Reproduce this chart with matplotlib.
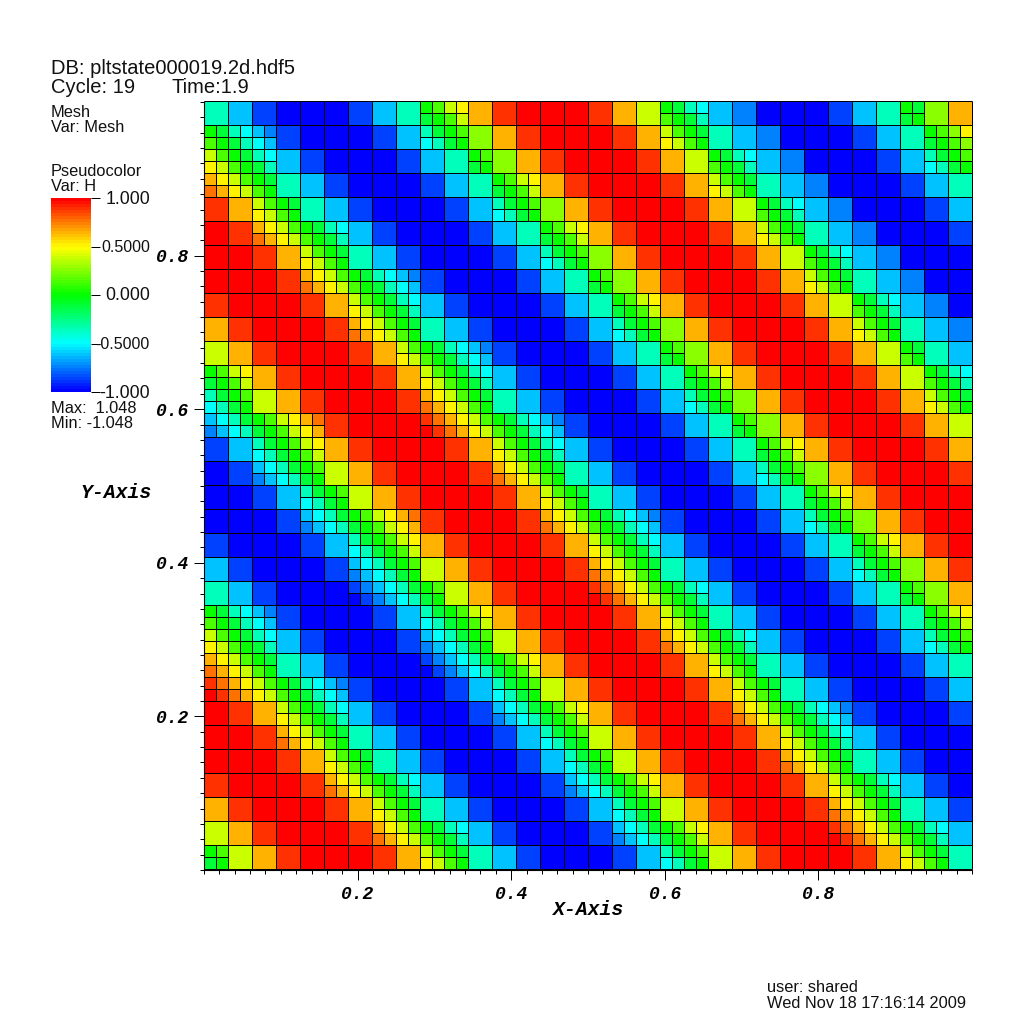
import numpy as np
import matplotlib
matplotlib.use("Agg")
import matplotlib.pyplot as plt
from matplotlib.collections import PolyCollection, LineCollection
from matplotlib.colors import LinearSegmentedColormap, Normalize
from matplotlib.cm import ScalarMappable
from matplotlib.transforms import Affine2D

# cell value codes, a = -1.0 up to q = 1.0 in steps of 0.125
level_codes = "abcdefghijklmnopq"
level_values = [-1.0, -0.875, -0.75, -0.625, -0.5, -0.375, -0.25, -0.125, 0.0,
                0.125, 0.25, 0.375, 0.5, 0.625, 0.75, 0.875, 1.0]

# top row first. one letter = coarse cell, four letters = refined cell (tl tr bl br)
h_rows = [
    "f d b a a a b d f ijhi lmjl n p q q q p n l ihji fehf d c a a a b d f ihhi k n",
    "ihji fehf dced b a a a b d fhef ijhi k n p q q q p n ljml ihji f d c a a a b d f ijhi kmjk",
    "ljml ihji fehf d b a a a b d f ijhi k n p q q q p n l ihji fehf d c a a a b d fhef ijhi",
    "nmon ljml ihji f d b a a a b d f ijhi lmjl n p q q q p n ljml ihji f d c a a a b d f",
    "p n ljml ihji f d b a a a b d fhef ijhi k n p q q q p n l ihji fehf d c a a a b d",
    "q p nmon ljml ihji fehf d b a a a b d f ijhi lmjl n p q q q p n ljml ihji f d c a a a b",
    "q q p n ljml ihji f d b a a a b d fhef ijhi k n p q q q p n l ihji fehf d c a a a",
    "q q q p nmon ljml ihji fehf dced b a a a b d f ijhi k n p q q q p n ljml ihji f d c a a",
    "p q q q p n ljml ihji fehf d b a a a b d f ijhi lmjl n p q q q p n l ihji fehf d c a",
    "n p q q q p nmon ljml ihji f d b a a a b d fhef ijhi k n p q q q p n ljml ihji f d c",
    "l n p q q q p n ljml ihji fehf dced b a a a b d f ijhi k n p q q q p n l ihji f d",
    "ijhi lmjl n p q q q p n ljml ihji fehf d b a a a b d f ijhi lmjl n p q q q p n l ihji fehf",
    "fhef ijhi l n p q q q p nmon ljml ihji f d b a a a b d fhef ijhi k n p q q q p n ljml ihji",
    "decd fhef ijhi lmjl nomn p q q q poqp nmon ljml ihji fehf dced b a a a b d f ijhi k n p q q q p n l",
    "b d fhef ijhi lmjl n p q q q p n ljml ihji fehf d b a a a b d f ijhi lmjl n p q q q p n",
    "a b decd fhef ijhi l n p q q q p nmon ljml ihji f d b a a a b d fhef ijhi k n p q q q p",
    "a a b d fhef ijhi l n p q q q p n ljml ihji f d b a a a b d f ijhi lmjl n p q q q",
    "a a a b decd fhef ijhi lmjl nomn p q q q p nmon ljml ihji fehf dced b a a a b d fhef ijhi k n p q q",
    "b a a a b d fhef ijhi lmjl n p q q q p n ljml ihji fehf d b a a a b d f ijhi lmjl n p q",
    "d b a a a b decd fhef ijhi l n p q q q p nmon ljml ihji f d b a a a b d fhef ijhi k n p",
    "f d b a a a bcab decd fhef ijhi l n p q q q poqp nmon ljml ihji fehf d b a a a b d f ijhi k n",
    "ihji fehf dced b a a a b d fhef ijhi lmjl n p q q q p n ljml ihji f d b a a a b d f ijhi lmjl",
    "ljml ihji fehf d b a a a b decd fhef ijhi l n p q q q p nmon ljml ihji fehf d b a a a b d fhef ijhi",
    "nmon ljml ihji f d b a a a bcab decd fhef ijhi lmjl n p q q q p n ljml ihji f d b a a a b d f",
    "poqp nmon ljml ihji fehf dced b a a a b d fhef ijhi l n p q q q p n ljml ihji f d b a a a b d",
    "q p n ljml ihji fehf d b a a a b decd fhef ijhi lmjl n p q q q p nmon ljml ihji fehf dced b a a a b",
    "q q p nmon ljml ihji f d b a a a b d fhef ijhi l n p q q q p n ljml ihji fehf d b a a a",
    "q q q p n ljml ihji f d b a a a b d fhef ijhi l n p q q q p nmon ljml ihji f d b a a",
    "p q q q p nmon ljml ihji fehf d b a a a b decd fhef ijhi lmjl n p q q q p n ljml ihji fehf d b a",
    "n p q q q p n ljml ihji f d b a a a b d fhef ijhi l n p q q q p nmon ljml ihji f d b",
    "l n p q q q p nmon ljml ihji fehf d b a a a b decd fhef ijhi lmjl n p q q q poqp nmon ljml ihji fehf d",
    "ijhi l n p q q q p n ljml ihji f d b a a a b d fhef ijhi l n p q q q p n ljml ihji f",
]

major_ticks = [0.2, 0.4, 0.6, 0.8]
major_labels = ["0.2", "0.4", "0.6", "0.8"]
bar_ticks = [-1.0, -0.5, 0.0, 0.5, 1.0]
bar_labels = ["-1.000", "-0.5000", "0.000", "0.5000", "1.000"]

W = 1024
sans = "Liberation Sans"
mono = "Liberation Mono"


def square(x0, y0, s):
    return [(x0, y0), (x0 + s, y0), (x0 + s, y0 + s), (x0, y0 + s)]


def build_cells(rows):
    verts = []
    vals = []
    n = len(rows)
    d = 1.0 / n
    for r, row in enumerate(rows):
        y_top = 1.0 - r * d
        tokens = row.split()
        assert len(tokens) == n, (r, len(tokens))
        for c, tok in enumerate(tokens):
            x_left = c * d
            if len(tok) == 1:
                verts.append(square(x_left, y_top - d, d))
                vals.append(level_values[level_codes.index(tok)])
            else:
                s = d / 2
                spots = [(x_left, y_top - s), (x_left + s, y_top - s),
                         (x_left, y_top - d), (x_left + s, y_top - d)]
                for (x0, y0), ch in zip(spots, tok):
                    verts.append(square(x0, y0, s))
                    vals.append(level_values[level_codes.index(ch)])
    return verts, vals


def cell_edges(verts):
    segs = []
    for v in verts:
        for i in range(4):
            segs.append([v[i], v[(i + 1) % 4]])
    return segs


def put_text(x, y, txt, size, **kw):
    # x, y are pixels from the top left of the picture
    kw.setdefault("family", sans)
    kw.setdefault("color", "#111111")
    kw.setdefault("ha", "left")
    kw.setdefault("va", "baseline")
    fig.text(x / W, 1 - y / W, txt, fontsize=size, **kw)


hot = LinearSegmentedColormap.from_list(
    "hot_visit", ["#0000ff", "#00ffff", "#00ff00", "#ffff00", "#ff0000"], N=64)
norm = Normalize(-1, 1)

fig = plt.figure(figsize=(W / 100, W / 100), dpi=100)
ax = fig.add_axes([204 / W, (W - 870) / W, 768 / W, 768 / W])
ax.set_xlim(0, 1)
ax.set_ylim(0, 1)

# the mesh sits one pixel above the y ticks
mesh_shift = Affine2D().translate(0, 1) + fig.transFigure.inverted() + fig.transFigure
verts, vals = build_cells(h_rows)
cells = PolyCollection(verts, array=np.array(vals), cmap=hot, norm=norm,
                       edgecolors="none", antialiaseds=False,
                       transform=ax.transData + mesh_shift)
ax.add_collection(cells)
edges = LineCollection(cell_edges(verts), colors="black", linewidths=0.72, zorder=3,
                       transform=ax.transData + mesh_shift, clip_on=False)
edges.set_snap(True)
ax.add_collection(edges)

ax.spines["top"].set_visible(False)
ax.spines["right"].set_visible(False)

minor = np.arange(0, 51) * 0.02
ax.set_xticks(minor, minor=True)
ax.set_yticks(minor, minor=True)
ax.set_xticks(major_ticks)
ax.set_yticks(major_ticks)
ax.set_xticklabels(major_labels, family=mono, weight="bold", style="italic", fontsize=13)
ax.set_yticklabels(major_labels, family=mono, weight="bold", style="italic", fontsize=13)
ax.tick_params(which="major", length=7, width=0.72, pad=4.5)
ax.tick_params(which="minor", length=3, width=0.72)

put_text(587.5, 915, "X-Axis", 14.2, family=mono, weight="bold", style="italic", ha="center", color="black")
put_text(116.5, 498, "Y-Axis", 14.2, family=mono, weight="bold", style="italic", ha="center", color="black")

# legend column
put_text(51, 74, "DB: pltstate000019.2d.hdf5", 14.5)
put_text(51, 93, "Cycle: 19", 14.5)
put_text(171, 93, "Time:1.9", 14.5)
put_text(51, 117, "Mesh", 11.8)
put_text(51, 132, "Var: Mesh", 11.8)
put_text(51, 176, "Pseudocolor", 11.8)
put_text(51, 191, "Var: H", 11.8)
put_text(51, 413, "Max:  1.048", 11.8)
put_text(51, 428, "Min: -1.048", 11.8)

cax = fig.add_axes([51 / W, (W - 392) / W, 40 / W, 194 / W])
bar = fig.colorbar(ScalarMappable(norm=norm, cmap=hot), cax=cax, ticks=bar_ticks)
bar.outline.set_visible(False)
bar.ax.set_yticklabels([])
bar.ax.tick_params(length=6.5, width=0.72)
# labels stop at the same right edge; the four decimal ones are squeezed in the original
for t, lab in zip(bar_ticks, bar_labels):
    y_px = 393 - (t + 1) / 2 * 194
    put_text(150, y_px, lab, 11.5 if lab.endswith("5000") else 12.8, ha="right", va="center")

# user and date
put_text(767, 992, "user: shared", 11.8)
put_text(767, 1008, "Wed Nov 18 17:16:14 2009", 11.8)

fig.savefig("out.png", dpi=100)
